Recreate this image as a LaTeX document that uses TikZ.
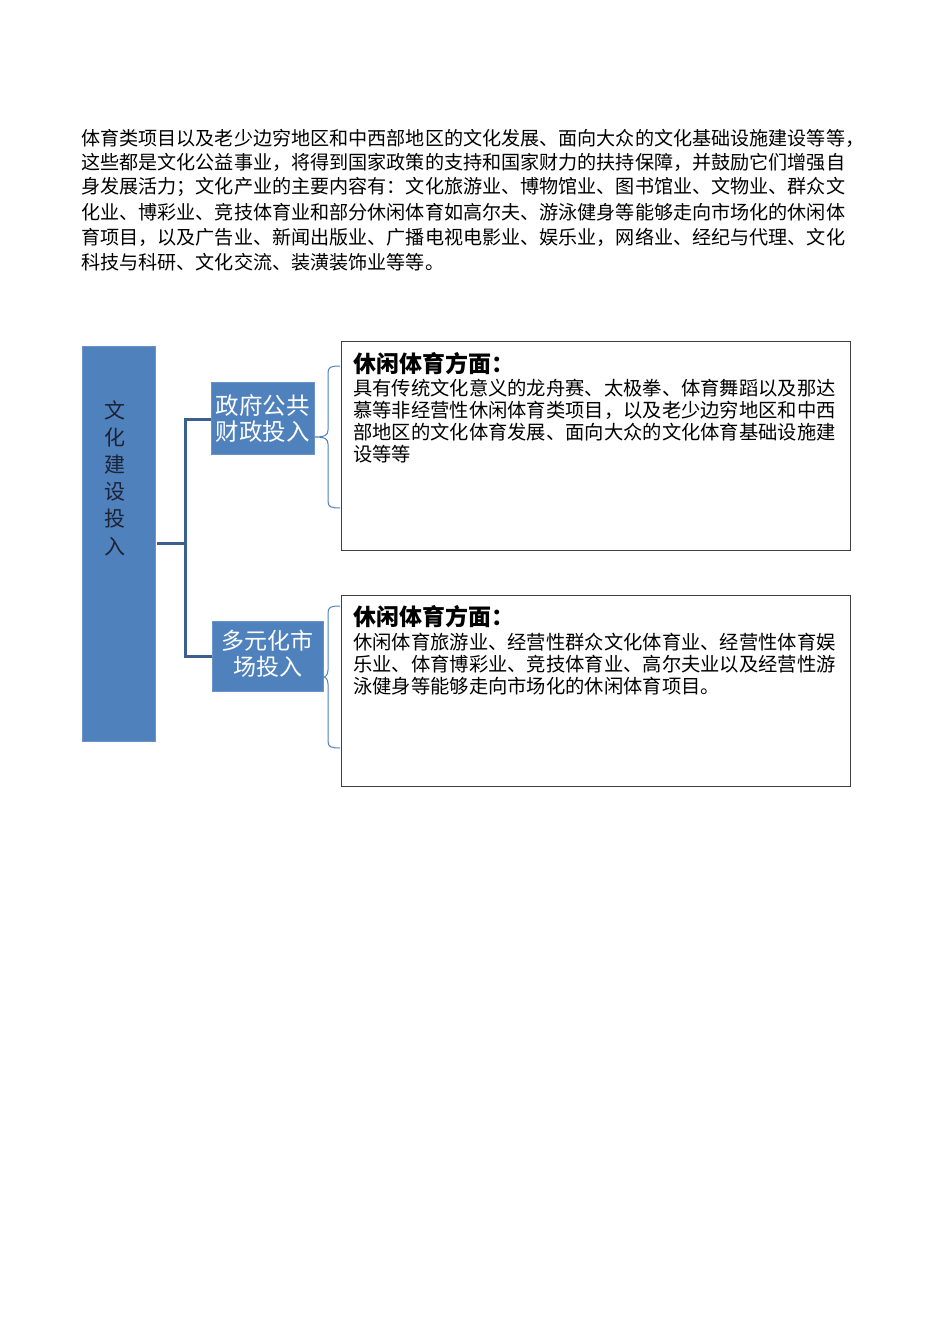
\documentclass[tikz,border=0pt]{standalone}
\usepackage{fontspec}
\setmainfont{Liberation Serif}
\newfontfamily\cjk{Noto Sans CJK SC}
\definecolor{officeblue}{HTML}{4F81BD}
\definecolor{linkblue}{HTML}{3B5F8F}
\definecolor{textnavy}{HTML}{1C2233}
\begin{document}
\begin{tikzpicture}[x=1pt,y=-1pt,
  para/.style={anchor=west,inner sep=0pt,font=\cjk\fontsize{19.1}{20}\selectfont},
  body/.style={anchor=west,inner sep=0pt,font=\cjk\fontsize{19.3}{20}\selectfont},
  title/.style={anchor=west,inner sep=0pt,font=\cjk\bfseries\fontsize{23}{25}\selectfont},
  bluebox/.style={fill=officeblue,draw=officeblue!85!white,line width=0.8pt},
  infobox/.style={draw=black!75,line width=0.9pt,fill=white},
  link/.style={draw=linkblue,line width=3pt},
  bracestyle/.style={draw=officeblue,line width=1pt}
]
\useasboundingbox (0,0) rectangle (950,1344);
\fill[white] (0,0) rectangle (950,1344);

% paragraph
\node[para] (p1) at (81,138) {体育类项目以及老少边穷地区和中西部地区的文化发展、面向大众的文化基础设施建设等等，};
\node[para] (p2) at (81,162) {这些都是文化公益事业，将得到国家政策的支持和国家财力的扶持保障，并鼓励它们增强自};
\node[para] (p3) at (81,187) {身发展活力；文化产业的主要内容有：文化旅游业、博物馆业、图书馆业、文物业、群众文};
\node[para] (p4) at (81,212) {化业、博彩业、竞技体育业和部分休闲体育如高尔夫、游泳健身等能够走向市场化的休闲体};
\node[para] (p5) at (81,237) {育项目，以及广告业、新闻出版业、广播电视电影业、娱乐业，网络业、经纪与代理、文化};
\node[para] (p6) at (81,262) {科技与科研、文化交流、装潢装饰业等等。};

% left big box
\path[bluebox] (82,346) rectangle (155,741);
\node[inner sep=0pt,align=center,text=textnavy,font=\cjk\fontsize{21}{27.2}\selectfont] (root) at (115,478) {文\\化\\建\\设\\投\\入};
\coordinate (rootR) at (157,543);

% middle boxes
\path[bluebox] (211,382) rectangle (314,454);
\node[inner sep=0pt,align=center,text=white,font=\cjk\fontsize{23.5}{26}\selectfont] (gov) at (262.5,418) {政府公共\\财政投入};
\coordinate (govL) at (211,419);
\coordinate (govR) at (315,437);

\path[bluebox] (212,621) rectangle (323,691);
\node[inner sep=0pt,align=center,text=white,font=\cjk\fontsize{23}{26}\selectfont] (mkt) at (267.5,654) {多元化市\\场投入};
\coordinate (mktL) at (212,656);
\coordinate (mktR) at (324,677);

% connectors
\coordinate (j) at (185,543);
\draw[link] (rootR) -- (j);
\draw[link] (govL) -- (185,419) -- (185,656) -- (mktL);

% right boxes
\path[infobox] (341,341) rectangle (850,550);
\path[infobox] (341,595) rectangle (850,786);

% braces
\coordinate (b1top) at (340,366);
\coordinate (b1bot) at (340,508);
\coordinate (b2top) at (340,606);
\coordinate (b2bot) at (340,748);
\draw[bracestyle] (b1top) .. controls (331,366) and (328,367) .. (328,373)
  -- (328,430) .. controls (328,435) and (325,437) .. (govR)
  .. controls (325,437) and (328,439) .. (328,444)
  -- (328,501) .. controls (328,507) and (331,508) .. (b1bot);
\draw[bracestyle] (b2top) .. controls (331,606) and (328,607) .. (328,613)
  -- (328,670) .. controls (328,675) and (325,677) .. (mktR)
  .. controls (325,677) and (328,679) .. (328,684)
  -- (328,741) .. controls (328,747) and (331,748) .. (b2bot);

% texts box 1
\node[title] (t1) at (353,364) {休闲体育方面：};
\node[body] (b11) at (353,388) {具有传统文化意义的龙舟赛、太极拳、体育舞蹈以及那达};
\node[body] (b12) at (353,410) {慕等非经营性休闲体育类项目，以及老少边穷地区和中西};
\node[body] (b13) at (353,432) {部地区的文化体育发展、面向大众的文化体育基础设施建};
\node[body] (b14) at (353,454) {设等等};

% texts box 2
\node[title] (t2) at (353,617) {休闲体育方面：};
\node[body] (b21) at (353,642) {休闲体育旅游业、经营性群众文化体育业、经营性体育娱};
\node[body] (b22) at (353,664) {乐业、体育博彩业、竞技体育业、高尔夫业以及经营性游};
\node[body] (b23) at (353,686) {泳健身等能够走向市场化的休闲体育项目。};
\end{tikzpicture}
\end{document}
